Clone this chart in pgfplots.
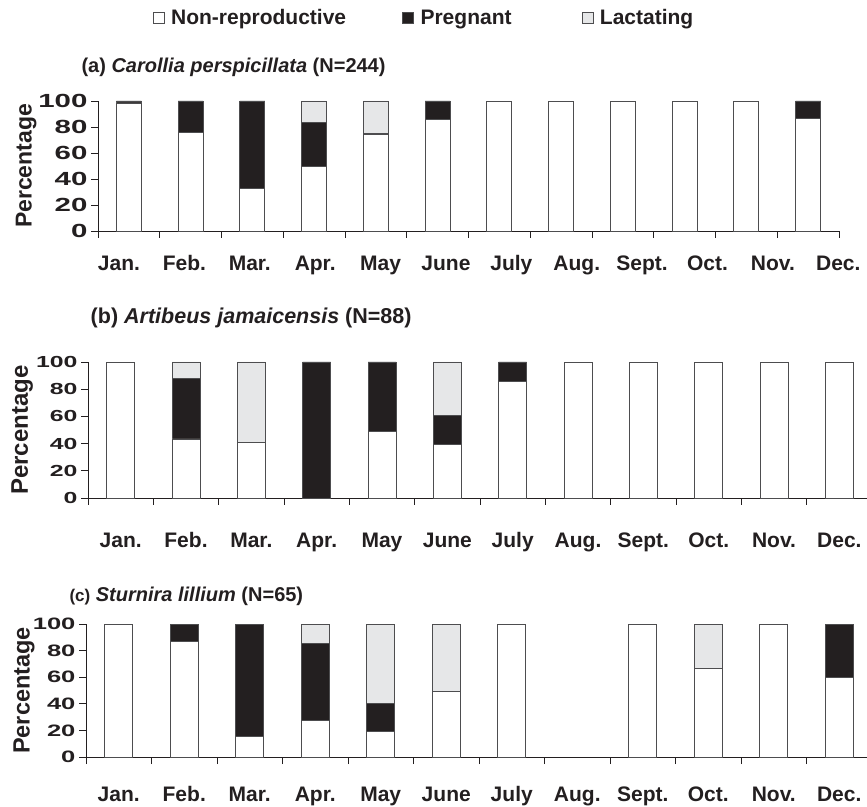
\documentclass[border=0pt]{standalone}
\usepackage{fontspec}
\setmainfont{Liberation Sans}
\usepackage{graphicx}
\usepackage{pgfplots}
\pgfplotsset{compat=1.18}
\usepackage{pgfplotstable}

\definecolor{preg}{HTML}{231F20}
\definecolor{lact}{HTML}{E6E7E8}
\definecolor{edge}{HTML}{4D4D4F}

\pgfplotstableread{
x NR P L
0 98.5 1.5 0
1 75.5 24.5 0
2 33 67 0
3 49.5 33.8 16.7
4 74 1 25
5 86 14 0
6 100 0 0
7 100 0 0
8 100 0 0
9 100 0 0
10 100 0 0
11 86.7 13.3 0
}\dataA

\pgfplotstableread{
x NR P L
0 100 0 0
1 43.4 44.8 11.8
2 40.6 0 59.4
3 0 100 0
4 49 51 0
5 39.2 21.3 39.5
6 85.7 14.3 0
7 100 0 0
8 100 0 0
9 100 0 0
10 100 0 0
11 100 0 0
}\dataB

\pgfplotstableread{
x NR P L
0 100 0 0
1 87 13 0
2 15.4 84.6 0
3 27.3 58.3 14.4
4 19 21 60
5 49.5 0 50.5
6 100 0 0
7 0 0 0
8 100 0 0
9 66.7 0 33.3
10 100 0 0
11 59.5 40.5 0
}\dataC

\pgfplotsset{
  sqlegend/.style={legend image code/.code={\draw[##1,line width=0.8pt] (0pt,-5.5pt) rectangle (11pt,5.5pt); \path[draw=none,fill=none] (0pt,0pt) -- (16pt,0pt);}},
  bats/.style={
    scale only axis, ybar stacked, ymin=0, ymax=100, xmin=-0.5, xmax=11.5,
    axis x line*=bottom, axis y line*=left,
    axis line style={draw=preg, line width=0.8pt},
    tick align=outside, major tick length=7pt,
    ytick={0,20,...,100}, ytick style={draw=preg, line width=0.8pt},
    xtick style={draw=none},
    extra x ticks={-0.5,0.5,...,11.5}, extra x tick labels={},
    extra x tick style={xtick style={draw=preg, line width=0.8pt}},
    /pgf/number format/assume math mode=true,
    xticklabel style={font=\fontsize{21}{24}\selectfont\bfseries, text=preg, anchor=base, text height=15pt, text depth=4pt},
    yticklabel style={text=preg},
    yticklabel={\scalebox{1.55}[1]{\pgfmathprintnumber{\tick}}},
    clip=false,
    every axis plot/.append style={draw=edge, line width=0.8pt},
    title style={anchor=west, text=preg},
  }
}

\begin{document}
\begin{tikzpicture}
\path[use as bounding box] (0pt,0pt) rectangle (867pt,806pt);

% (a)
\begin{axis}[bats, at={(98pt,575pt)}, anchor=south west, width=741pt, height=130pt,
  bar width=25pt,
  xtick={-0.160,0.899,1.958,3.017,4.076,5.135,6.194,7.253,8.312,9.371,10.430,11.489},
  xticklabels={Jan.,Feb.,Mar.,Apr.,May,June,July,Aug.,Sept.,Oct.,Nov.,Dec.},
  xticklabel style={yshift=-33pt},
  yticklabel style={font=\fontsize{19}{20}\selectfont\bfseries},
  ylabel={Percentage},
  every axis y label/.style={at={(axis description cs:-0.097,0.5)}, anchor=center, rotate=90, font=\fontsize{23}{26}\selectfont\bfseries, text=preg},
  title={(a) \textit{Carollia perspicillata} (N=244)},
  title style={at={(axis description cs:-0.027,1.215)}, font=\fontsize{20}{24}\selectfont\bfseries},
  legend style={at={(axis description cs:0.44,1.638)}, anchor=center, draw=none, fill=none,
    font=\fontsize{21}{24}\selectfont\bfseries, text=preg, legend columns=3,
    /tikz/column 2/.style={column sep=54pt},
    /tikz/column 4/.style={column sep=68pt}},
]
\addplot[fill=white, sqlegend] table[x=x,y=NR]{\dataA};
\addlegendentry{Non-reproductive}
\addplot[fill=preg, sqlegend] table[x=x,y=P]{\dataA};
\addlegendentry{Pregnant}
\addplot[fill=lact, sqlegend] table[x=x,y=L]{\dataA};
\addlegendentry{Lactating}
\end{axis}

% (b)
\begin{axis}[bats, at={(88pt,308pt)}, anchor=south west, width=784pt, height=136pt,
  bar width=28pt,
  xtick={0,...,11},
  xticklabels={Jan.,Feb.,Mar.,Apr.,May,June,July,Aug.,Sept.,Oct.,Nov.,Dec.},
  xticklabel style={yshift=-43pt},
  yticklabel style={font=\fontsize{16}{18}\selectfont\bfseries},
  ylabel={Percentage},
  every axis y label/.style={at={(axis description cs:-0.084,0.5)}, anchor=center, rotate=90, font=\fontsize{24}{27}\selectfont\bfseries, text=preg},
  title={(b) \textit{Artibeus jamaicensis} (N=88)},
  title style={at={(axis description cs:-0.001,1.279)}, font=\fontsize{21.5}{25}\selectfont\bfseries},
]
\addplot[fill=white] table[x=x,y=NR]{\dataB};
\addplot[fill=preg] table[x=x,y=P]{\dataB};
\addplot[fill=lact] table[x=x,y=L]{\dataB};
\end{axis}

% (c)
\begin{axis}[bats, at={(86pt,49pt)}, anchor=south west, width=786pt, height=133pt,
  bar width=28pt,
  xtick={0,...,11},
  xticklabels={Jan.,Feb.,Mar.,Apr.,May,June,July,Aug.,Sept.,Oct.,Nov.,Dec.},
  xticklabel style={yshift=-37pt},
  yticklabel style={font=\fontsize{16.5}{18}\selectfont\bfseries},
  ylabel={Percentage},
  every axis y label/.style={at={(axis description cs:-0.079,0.5)}, anchor=center, rotate=90, font=\fontsize{23.5}{26}\selectfont\bfseries, text=preg},
  title={{\fontsize{17}{20}\selectfont(c)} \textit{Sturnira lillium} (N=65)},
  title style={at={(axis description cs:-0.0254,1.165)}, font=\fontsize{20}{24}\selectfont\bfseries},
]
\addplot[fill=white] table[x=x,y=NR]{\dataC};
\addplot[fill=preg] table[x=x,y=P]{\dataC};
\addplot[fill=lact] table[x=x,y=L]{\dataC};
\end{axis}
\end{tikzpicture}
\end{document}
